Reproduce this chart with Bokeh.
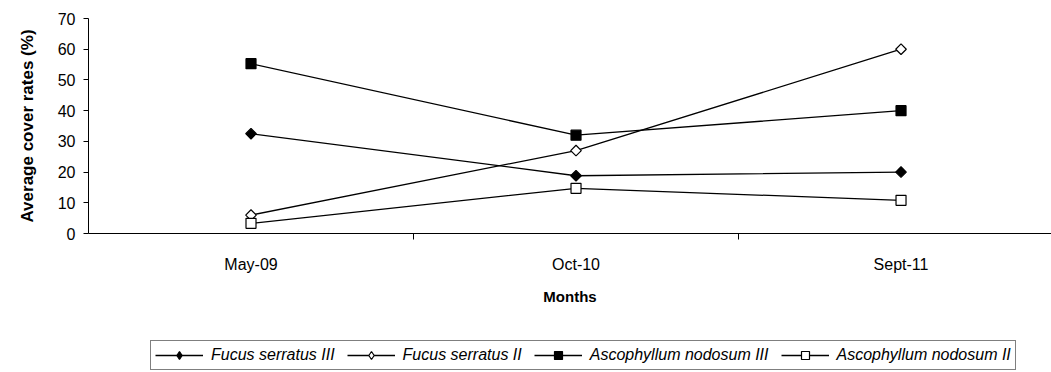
import numpy as np
from bokeh.plotting import figure
from bokeh.layouts import column
from bokeh.models import Range1d, FixedTicker, Legend, LegendItem, ColumnDataSource
from bokeh.embed import file_html
from bokeh.resources import INLINE

months = ["May-09", "Oct-10", "Sept-11"]
fucus_iii = [32.5, 18.8, 20.0]
fucus_ii = [6.0, 27.0, 60.0]
asco_iii = [55.3, 32.0, 40.0]
asco_ii = [3.3, 14.7, 10.8]
y_ticks = [0, 10, 20, 30, 40, 50, 60, 70]

FONT = "Liberation Sans"
xs = list(range(len(months)))

series = [
    ("Fucus serratus III", fucus_iii, "black", "diamond"),
    ("Fucus serratus II", fucus_ii, "white", "diamond"),
    ("Ascophyllum nodosum III", asco_iii, "black", "square"),
    ("Ascophyllum nodosum II", asco_ii, "white", "square"),
]

p = figure(width=1051, height=325, output_backend="svg", toolbar_location=None,
           x_range=Range1d(-0.5, 2.463), y_range=Range1d(0, 70),
           min_border_left=88, min_border_right=0, min_border_top=18, min_border_bottom=92)
p.outline_line_color = None
p.xgrid.visible = False
p.ygrid.visible = False

# legend strip below the chart
p2 = figure(width=1051, height=47, output_backend="svg", toolbar_location=None,
            x_range=Range1d(-0.5, 2.463), y_range=Range1d(0, 70),
            x_axis_location=None, y_axis_location=None,
            min_border_left=0, min_border_right=0, min_border_top=0, min_border_bottom=0)
p2.outline_line_color = None
p2.xgrid.visible = False
p2.ygrid.visible = False

items = []
for name, vals, fill, mk in series:
    src = ColumnDataSource(dict(x=xs, y=vals))
    p.line("x", "y", source=src, line_color="black", line_width=1.3)
    if mk == "diamond":
        p.scatter("x", "y", source=src, marker="square", size=7.5, angle=np.pi / 4,
                  fill_color=fill, line_color="black", line_width=1.2)
        lm = "diamond"
        lsize = 12
    else:
        p.scatter("x", "y", source=src, marker="square", size=10,
                  fill_color=fill, line_color="black", line_width=1.2)
        lm = "square"
        lsize = 10
    # legend-only renderers (hidden in the strip)
    l2 = p2.line("x", "y", source=src, line_color="black", line_width=1.3, visible=False)
    s2 = p2.scatter("x", "y", source=src, marker=lm, size=lsize,
                    fill_color=fill, line_color="black", line_width=1.2, visible=False)
    items.append(LegendItem(label=name, renderers=[l2, s2]))

# x axis
xa = p.xaxis[0]
xa.ticker = FixedTicker(ticks=xs, minor_ticks=[0.5, 1.5])
xa.major_label_overrides = {i: m for i, m in enumerate(months)}
xa.major_tick_out = 0
xa.major_tick_in = 0
xa.minor_tick_out = 6
xa.minor_tick_in = 0
xa.minor_tick_line_color = "black"
xa.axis_line_color = "black"
xa.major_label_text_font = FONT
xa.major_label_text_font_size = "16px"
xa.major_label_text_color = "black"
xa.major_label_standoff = 16
xa.axis_label = "Months"
xa.axis_label_text_font = FONT
xa.axis_label_text_font_size = "15px"
xa.axis_label_text_font_style = "bold"
xa.axis_label_text_color = "black"
xa.axis_label_standoff = 12

ya = p.yaxis[0]
ya.ticker = FixedTicker(ticks=y_ticks, minor_ticks=[])
ya.major_tick_out = 5
ya.major_tick_in = 0
ya.major_tick_line_color = "black"
ya.axis_line_color = "black"
ya.major_label_text_font = FONT
ya.major_label_text_font_size = "16px"
ya.major_label_text_color = "black"
ya.major_label_standoff = 8
ya.axis_label = "Average cover rates (%)"
ya.axis_label_text_font = FONT
ya.axis_label_text_font_size = "17px"
ya.axis_label_text_font_style = "bold"
ya.axis_label_text_color = "black"
ya.axis_label_standoff = 18

legend = Legend(items=items, orientation="horizontal", location=(62, 2),
                label_text_font=FONT, label_text_font_size="16px",
                label_text_font_style="italic", label_text_color="black",
                glyph_width=48, glyph_height=20, label_standoff=8, spacing=12,
                padding=4, margin=0, border_line_color="black", border_line_width=1,
                background_fill_color="white", label_height=16,
                inactive_fill_alpha=0.0, click_policy="none")
p2.add_layout(legend)

layout = column(p, p2, spacing=0)
open("out.html", "w").write(file_html(layout, INLINE))
